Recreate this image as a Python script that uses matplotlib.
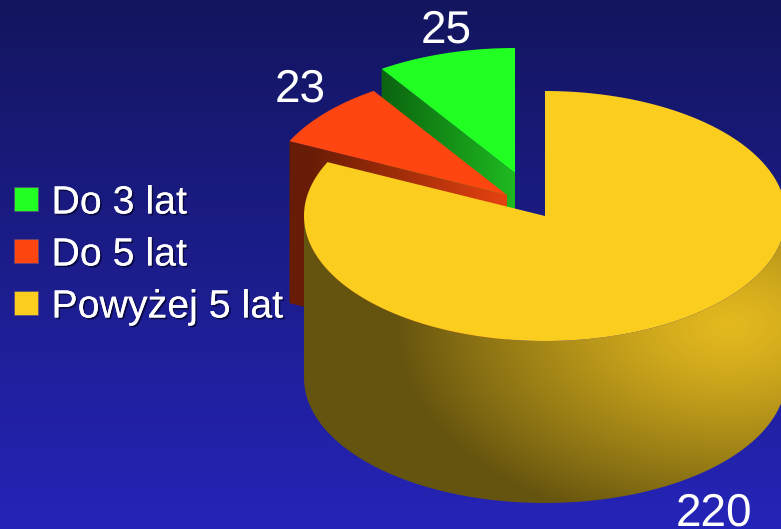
import numpy as np
import matplotlib
matplotlib.use('Agg')
import matplotlib.pyplot as plt
import matplotlib.colors as mcolors
import matplotlib.patheffects as pe
from matplotlib.patches import Polygon, Rectangle

plt.rcParams['font.family'] = ['Liberation Sans', 'DejaVu Sans']
plt.rcParams['text.hinting'] = 'no_hinting'

labels = ['Do 3 lat', 'Do 5 lat', 'Powyżej 5 lat']
values = [25, 23, 220]
colors = ['#22ff22', '#ff4510', '#facd1f']

W, H = 781, 529
RX, RY, DEPTH = 241, 125, 162
# pie centre of each slice, they are pulled apart in the original
centers = {'Powyżej 5 lat': (545, 216), 'Do 5 lat': (507, 195), 'Do 3 lat': (515, 173)}
# clockwise from 12 o'clock, yellow goes first
order = [2, 1, 0]


def lerp_image(t, c0, c1):
    c0 = np.array(mcolors.to_rgb(c0))
    c1 = np.array(mcolors.to_rgb(c1))
    t = np.clip(t, 0, 1)[..., None]
    return c0 + (c1 - c0) * t


def arc(cx, cy, a0, a1, n=200):
    a = np.radians(np.linspace(a0, a1, n))
    return np.column_stack([cx + RX * np.sin(a), cy - RY * np.cos(a)])


def gradient_fill(ax, verts, img, zorder):
    poly = Polygon(verts, closed=True, transform=ax.transData, facecolor='none',
                   edgecolor='none')
    ax.add_patch(poly)
    im = ax.imshow(img, extent=(0, W, H, 0), aspect='auto', interpolation='bilinear',
                   zorder=zorder)
    im.set_clip_path(poly)


fig = plt.figure(figsize=(W / 100, H / 100), dpi=100)
ax = fig.add_axes([0, 0, 1, 1])
xx, yy = np.meshgrid(np.arange(W) + 0.5, np.arange(H) + 0.5)

ax.imshow(lerp_image(yy / H, '#13155e', '#2524b8'), extent=(0, W, H, 0), aspect='auto',
          zorder=0)

# work out slice angles from the values
angles = {}
start = 0
for i in order:
    sweep = values[i] / sum(values) * 360
    angles[labels[i]] = (start, start + sweep)
    start += sweep

# green slice, back
a0, a1 = angles['Do 3 lat']
cx, cy = centers['Do 3 lat']
rim = arc(cx, cy, a0, a1)
wall = np.array([rim[0], [cx, cy], [cx, cy + DEPTH], rim[0] + [0, DEPTH]])
gradient_fill(ax, wall, lerp_image((xx - rim[0][0]) / (cx - rim[0][0]), '#0b6410', '#1fba20'), 1)
ax.add_patch(Polygon(np.vstack([[[cx, cy]], rim]), closed=True, facecolor=colors[0],
                     edgecolor='none', zorder=2))

# red slice
a0, a1 = angles['Do 5 lat']
cx, cy = centers['Do 5 lat']
rim = arc(cx, cy, a0, a1)
wall = np.array([rim[0], [cx, cy], [cx, cy + DEPTH], rim[0] + [0, DEPTH]])
gradient_fill(ax, wall, lerp_image((xx - rim[0][0] - 20) / (cx - rim[0][0] - 20), '#681c05', '#e64210'), 3)
ax.add_patch(Polygon(np.vstack([[[cx, cy]], rim]), closed=True, facecolor=colors[1],
                     edgecolor='none', zorder=4))

# yellow slice, front
a0, a1 = angles['Powyżej 5 lat']
cx, cy = centers['Powyżej 5 lat']
rim = arc(cx, cy, a0, a1, n=400)
front = arc(cx, cy, 90, 270)  # visible part of the outer side
side = np.vstack([front, front[::-1] + [0, DEPTH]])
dist = np.hypot(xx - 730, 1.6 * (yy - 325))
gradient_fill(ax, side, lerp_image((dist / 335) ** 1.25, '#e4b91f', '#65540f'), 5)
ax.add_patch(Polygon(np.vstack([[[cx, cy]], rim]), closed=True, facecolor=colors[2],
                     edgecolor='none', zorder=6))

# legend
legend_y = [187, 239, 291]
shadow = [pe.withSimplePatchShadow(offset=(1.2, -1.2), shadow_rgbFace='#08083a', alpha=0.9),
          pe.Normal()]
for lab, col, y in zip(labels, colors, legend_y):
    ax.add_patch(Rectangle((14, y), 24, 24, facecolor=col, edgecolor='#5a4a80',
                           linewidth=0.5, zorder=7))
    ax.text(51.5, y + 26.5, lab, color='white', fontsize=28.3, ha='left', va='baseline',
            zorder=8, path_effects=shadow)

# value labels
ax.text(446, 43, str(values[0]), color='white', fontsize=33, ha='center', va='baseline', zorder=8)
ax.text(300, 102, str(values[1]), color='white', fontsize=33, ha='center', va='baseline', zorder=8)
ax.text(714, 526, str(values[2]), color='white', fontsize=33, ha='center', va='baseline', zorder=8)

ax.set_xlim(0, W)
ax.set_ylim(H, 0)
ax.axis('off')
fig.savefig('out.png', dpi=100)
